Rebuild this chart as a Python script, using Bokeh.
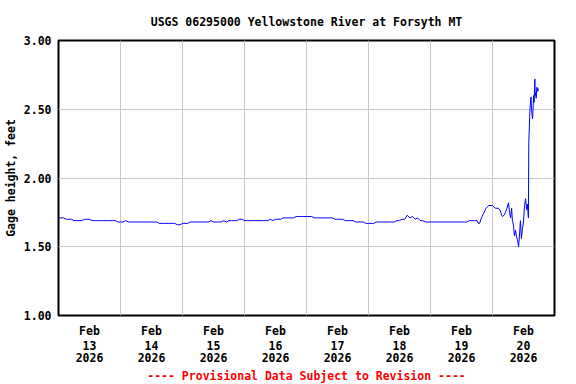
import numpy as np
from bokeh.plotting import figure
from bokeh.models import FixedTicker, Range1d, ColumnDataSource, LinearAxis
from bokeh.embed import file_html
from bokeh.resources import INLINE

title_text = "USGS 06295000 Yellowstone River at Forsyth MT"
y_label = "Gage height, feet"
caption = "---- Provisional Data Subject to Revision ----"
month_labels = ["Feb"] * 8
day_numbers = ["13", "14", "15", "16", "17", "18", "19", "20"]
year_labels = ["2026"] * 8
y_ticks = [1.0, 1.5, 2.0, 2.5, 3.0]
y_tick_labels = ["1.00", "1.50", "2.00", "2.50", "3.00"]

# hourly gage height, Feb 13 00:00 .. Feb 19 18:00
feb13 = [1.71, 1.71, 1.71, 1.70, 1.70, 1.70, 1.69, 1.69, 1.69, 1.69, 1.70, 1.70,
         1.70, 1.69, 1.69, 1.69, 1.69, 1.69, 1.69, 1.69, 1.69, 1.69, 1.69, 1.68]
feb14 = [1.68, 1.68, 1.69, 1.68, 1.68, 1.68, 1.68, 1.68, 1.68, 1.68, 1.68, 1.68,
         1.68, 1.68, 1.68, 1.67, 1.67, 1.67, 1.67, 1.67, 1.67, 1.67, 1.66, 1.66]
feb15 = [1.67, 1.67, 1.67, 1.68, 1.68, 1.68, 1.68, 1.68, 1.68, 1.68, 1.68, 1.69,
         1.68, 1.68, 1.68, 1.68, 1.69, 1.68, 1.69, 1.69, 1.69, 1.69, 1.70, 1.70]
feb16 = [1.69, 1.69, 1.69, 1.69, 1.69, 1.69, 1.69, 1.69, 1.69, 1.69, 1.70, 1.69,
         1.70, 1.70, 1.70, 1.71, 1.71, 1.71, 1.71, 1.71, 1.72, 1.72, 1.72, 1.72]
feb17 = [1.72, 1.72, 1.72, 1.71, 1.71, 1.71, 1.71, 1.71, 1.71, 1.71, 1.71, 1.70,
         1.70, 1.70, 1.70, 1.69, 1.69, 1.69, 1.69, 1.68, 1.68, 1.68, 1.68, 1.67]
feb18 = [1.67, 1.67, 1.67, 1.68, 1.68, 1.68, 1.68, 1.68, 1.68, 1.68, 1.68, 1.69,
         1.69, 1.70, 1.70, 1.73, 1.71, 1.72, 1.70, 1.71, 1.69, 1.69, 1.68, 1.68]
feb19 = [1.68, 1.68, 1.68, 1.68, 1.68, 1.68, 1.68, 1.68, 1.68, 1.68, 1.68, 1.68,
         1.68, 1.68, 1.68, 1.69, 1.69, 1.69, 1.69]

# irregular readings after Feb 19 18:00 (hours since Feb 19 00:00)
tail_hours = [18.5, 19.0, 19.5, 20.0, 20.5, 21.0, 21.5, 22.0, 22.5, 23.0, 23.5, 24.0,
              24.5, 25.2, 26.3, 27.1, 27.5, 27.9, 28.5, 29.0, 29.6, 30.2, 30.6, 31.0,
              31.4, 31.7, 32.1, 32.5, 32.9, 33.3, 33.7, 34.1, 34.5, 34.8, 35.2, 35.6,
              36.0, 36.4, 36.8, 37.2, 37.5, 37.9, 38.05, 38.5, 38.9, 39.1, 39.5, 39.7,
              39.9, 40.1, 40.4, 40.5, 40.7, 40.9, 41.1, 41.2, 41.5, 41.8]
tail_stage = [1.67, 1.67, 1.70, 1.72, 1.74, 1.76, 1.78, 1.79, 1.80, 1.80, 1.80, 1.80,
              1.79, 1.78, 1.78, 1.76, 1.73, 1.72, 1.73, 1.75, 1.78, 1.82, 1.75, 1.71,
              1.78, 1.69, 1.66, 1.58, 1.62, 1.57, 1.55, 1.50, 1.60, 1.69, 1.56, 1.63,
              1.68, 1.80, 1.85, 1.77, 1.81, 1.71, 2.26, 2.50, 2.59, 2.50, 2.43, 2.50,
              2.60, 2.55, 2.72, 2.60, 2.62, 2.58, 2.64, 2.66, 2.63, 2.65]

hourly = feb13 + feb14 + feb15 + feb16 + feb17 + feb18 + feb19
hours = list(range(len(hourly))) + [144 + h for h in tail_hours]
stage = hourly + tail_stage
days = [h / 24.0 for h in hours]

FONT = "DejaVu Sans Mono"
FS = "11.5px"

p = figure(frame_width=496, frame_height=275, output_backend="svg", toolbar_location=None,
           x_range=Range1d(0, 8), y_range=Range1d(1.0, 3.0),
           min_border_left=0, min_border_right=14, min_border_top=0, min_border_bottom=0)
p.background_fill_color = "white"
p.border_fill_color = "white"
p.outline_line_color = "black"
p.outline_line_width = 2

p.title.text = title_text
p.title.align = "center"
p.title.text_font = FONT
p.title.text_font_size = FS
p.title.text_font_style = "bold"
p.title.text_color = "black"
p.title.standoff = 24

src = ColumnDataSource(dict(x=days, y=stage))
p.line("x", "y", source=src, line_color="#0000ff", line_width=1)

label_pos = [i + 0.5 for i in range(8)]

def style_axis(ax):
    ax.axis_line_color = None
    ax.major_tick_line_color = None
    ax.minor_tick_line_color = None
    ax.major_tick_out = 0
    ax.minor_tick_out = 0
    ax.major_tick_in = 0
    ax.minor_tick_in = 0
    ax.major_label_text_font = FONT
    ax.major_label_text_font_size = FS
    ax.major_label_text_font_style = "bold"
    ax.major_label_text_color = "black"
    ax.axis_label_text_font = FONT
    ax.axis_label_text_font_size = FS
    ax.axis_label_text_font_style = "bold"

xa = p.xaxis[0]
xa.ticker = FixedTicker(ticks=label_pos)
xa.major_label_overrides = {pos: lab for pos, lab in zip(label_pos, month_labels)}
xa.major_label_standoff = 8
style_axis(xa)

xa2 = LinearAxis(ticker=FixedTicker(ticks=label_pos),
                 major_label_overrides={pos: lab for pos, lab in zip(label_pos, day_numbers)})
style_axis(xa2)
xa2.major_label_standoff = 0
p.add_layout(xa2, "below")

xa3 = LinearAxis(ticker=FixedTicker(ticks=label_pos),
                 major_label_overrides={pos: lab for pos, lab in zip(label_pos, year_labels)})
style_axis(xa3)
xa3.major_label_standoff = 0
xa3.axis_label = caption
xa3.axis_label_text_color = "#ff0000"
xa3.axis_label_standoff = 4
p.add_layout(xa3, "below")

ya = p.yaxis[0]
ya.ticker = FixedTicker(ticks=y_ticks)
ya.major_label_overrides = {t: l for t, l in zip(y_ticks, y_tick_labels)}
ya.axis_label = y_label
style_axis(ya)
ya.axis_label_text_color = "black"
ya.axis_label_standoff = 3
ya.major_label_standoff = 7

p.xgrid.ticker = FixedTicker(ticks=[1, 2, 3, 4, 5, 6, 7])
p.ygrid.ticker = FixedTicker(ticks=y_ticks)
p.xgrid.grid_line_color = "#c8c8c8"
p.ygrid.grid_line_color = "#c8c8c8"
p.xgrid.grid_line_width = 1
p.ygrid.grid_line_width = 1

open("out.html", "w").write(file_html(p, INLINE))
